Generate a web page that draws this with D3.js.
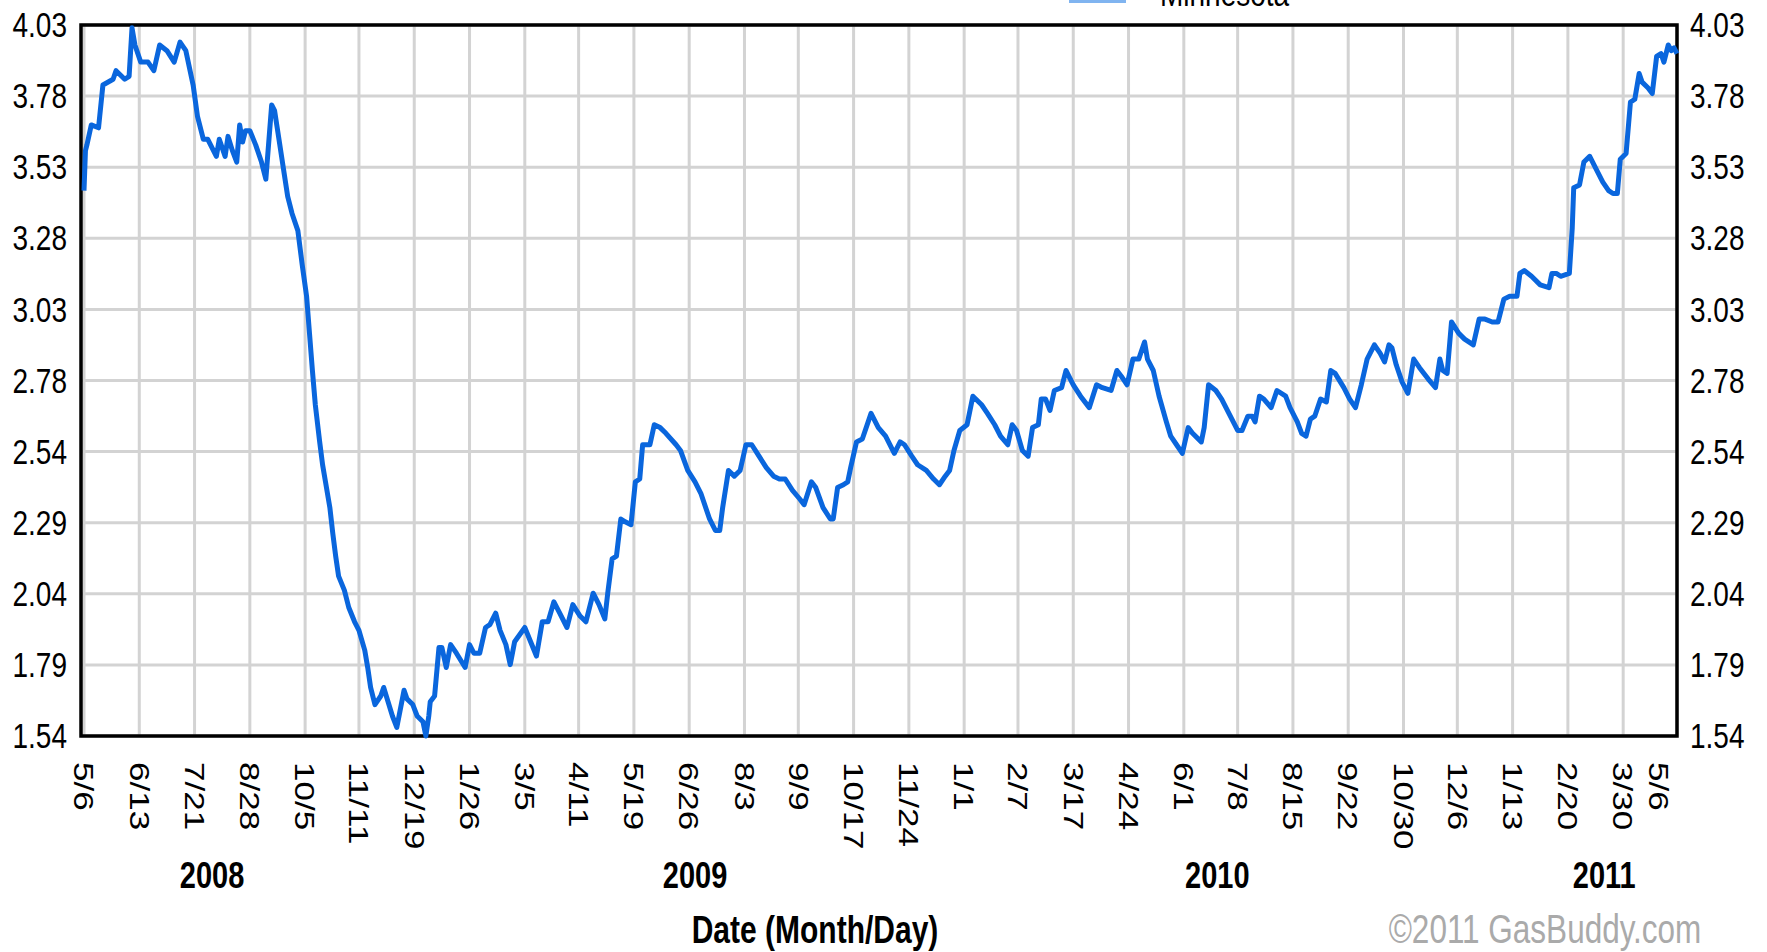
<!DOCTYPE html>
<html>
<head>
<meta charset="utf-8">
<script src="https://cdnjs.cloudflare.com/ajax/libs/d3/7.8.5/d3.min.js"></script>
<style>
  body { margin: 0; background: #fff; }
  svg { display: block; font-family: "Liberation Sans", Arial, sans-serif; }
</style>
</head>
<body>
<svg id="chart"></svg>
<script>
// average gas price
var dates = [
  "2008-05-06","2008-05-07","2008-05-08","2008-05-11","2008-05-16","2008-05-19","2008-05-26","2008-05-28",
  "2008-06-03","2008-06-06","2008-06-08","2008-06-10","2008-06-14","2008-06-19","2008-06-23","2008-06-27",
  "2008-07-02","2008-07-07","2008-07-11","2008-07-15","2008-07-20","2008-07-23","2008-07-27","2008-07-30",
  "2008-08-01","2008-08-05","2008-08-07","2008-08-11","2008-08-13","2008-08-16","2008-08-19","2008-08-21",
  "2008-08-23","2008-08-25","2008-08-28","2008-09-01","2008-09-05","2008-09-08","2008-09-12","2008-09-14",
  "2008-09-17","2008-09-20","2008-09-23","2008-09-26","2008-09-30","2008-10-03","2008-10-06","2008-10-08",
  "2008-10-10","2008-10-12","2008-10-15","2008-10-17","2008-10-19","2008-10-22","2008-10-24","2008-10-26",
  "2008-10-28","2008-11-01","2008-11-04","2008-11-08","2008-11-11","2008-11-15","2008-11-17","2008-11-19",
  "2008-11-22","2008-11-26","2008-11-28","2008-12-01","2008-12-04","2008-12-07","2008-12-12","2008-12-14",
  "2008-12-18","2008-12-21","2008-12-25","2008-12-27","2008-12-29","2008-12-30","2009-01-02","2009-01-05",
  "2009-01-07","2009-01-10","2009-01-13","2009-01-17","2009-01-23","2009-01-26","2009-01-29","2009-02-02",
  "2009-02-06","2009-02-09","2009-02-13","2009-02-16","2009-02-20","2009-02-23","2009-02-26","2009-03-05",
  "2009-03-09","2009-03-13","2009-03-17","2009-03-21","2009-03-25","2009-03-29","2009-04-03","2009-04-07",
  "2009-04-12","2009-04-16","2009-04-21","2009-04-25","2009-04-29","2009-05-01","2009-05-04","2009-05-07",
  "2009-05-10","2009-05-13","2009-05-17","2009-05-20","2009-05-23","2009-05-25","2009-05-30","2009-06-02",
  "2009-06-06","2009-06-10","2009-06-17","2009-06-20","2009-06-25","2009-06-30","2009-07-04","2009-07-10",
  "2009-07-14","2009-07-17","2009-07-19","2009-07-23","2009-07-27","2009-07-31","2009-08-04","2009-08-08",
  "2009-08-13","2009-08-18","2009-08-23","2009-08-27","2009-08-31","2009-09-05","2009-09-10","2009-09-13",
  "2009-09-18","2009-09-21","2009-09-26","2009-10-01","2009-10-03","2009-10-06","2009-10-10","2009-10-13",
  "2009-10-15","2009-10-19","2009-10-23","2009-10-29","2009-11-03","2009-11-08","2009-11-14","2009-11-18",
  "2009-11-21","2009-11-26","2009-11-30","2009-12-06","2009-12-11","2009-12-15","2009-12-19","2009-12-22",
  "2009-12-25","2009-12-29","2010-01-03","2010-01-07","2010-01-13","2010-01-17","2010-01-22","2010-01-26",
  "2010-01-31","2010-02-03","2010-02-06","2010-02-10","2010-02-14","2010-02-17","2010-02-21","2010-02-23",
  "2010-02-26","2010-03-01","2010-03-04","2010-03-09","2010-03-12","2010-03-17","2010-03-22","2010-03-28",
  "2010-04-02","2010-04-06","2010-04-12","2010-04-16","2010-04-19","2010-04-23","2010-04-27","2010-05-01",
  "2010-05-05","2010-05-07","2010-05-11","2010-05-15","2010-05-20","2010-05-23","2010-05-27","2010-05-31",
  "2010-06-04","2010-06-07","2010-06-13","2010-06-15","2010-06-18","2010-06-23","2010-06-27","2010-07-02",
  "2010-07-08","2010-07-11","2010-07-15","2010-07-18","2010-07-20","2010-07-23","2010-07-26","2010-07-31",
  "2010-08-04","2010-08-10","2010-08-13","2010-08-18","2010-08-21","2010-08-24","2010-08-27","2010-08-30",
  "2010-09-03","2010-09-07","2010-09-10","2010-09-13","2010-09-19","2010-09-23","2010-09-27","2010-10-01",
  "2010-10-05","2010-10-10","2010-10-14","2010-10-17","2010-10-20","2010-10-22","2010-10-25","2010-10-29",
  "2010-11-02","2010-11-06","2010-11-10","2010-11-16","2010-11-21","2010-11-24","2010-11-26","2010-11-29",
  "2010-12-02","2010-12-07","2010-12-11","2010-12-17","2010-12-21","2010-12-25","2010-12-30","2011-01-03",
  "2011-01-07","2011-01-11","2011-01-16","2011-01-18","2011-01-21","2011-01-26","2011-02-01","2011-02-07",
  "2011-02-09","2011-02-12","2011-02-15","2011-02-21","2011-02-23","2011-02-24","2011-02-28","2011-03-03",
  "2011-03-07","2011-03-11","2011-03-16","2011-03-20","2011-03-23","2011-03-26","2011-03-28","2011-04-01",
  "2011-04-04","2011-04-07","2011-04-10","2011-04-12","2011-04-16","2011-04-19","2011-04-22","2011-04-25",
  "2011-04-27","2011-04-30","2011-05-02","2011-05-04","2011-05-06"
];
var prices = [
  3.45,3.59,3.61,3.68,3.67,3.82,3.84,3.87,
  3.84,3.85,4.02,3.96,3.90,3.90,3.87,3.96,
  3.94,3.90,3.97,3.94,3.82,3.71,3.63,3.63,
  3.61,3.57,3.63,3.57,3.64,3.59,3.55,3.68,
  3.62,3.66,3.66,3.61,3.55,3.49,3.75,3.73,
  3.63,3.53,3.43,3.37,3.31,3.19,3.08,2.95,
  2.82,2.70,2.57,2.49,2.43,2.34,2.25,2.17,
  2.10,2.05,1.99,1.94,1.91,1.84,1.78,1.71,
  1.65,1.68,1.71,1.66,1.61,1.57,1.70,1.67,
  1.65,1.61,1.59,1.54,1.61,1.66,1.68,1.85,
  1.85,1.78,1.86,1.83,1.78,1.86,1.83,1.83,
  1.92,1.93,1.97,1.91,1.86,1.79,1.87,1.92,
  1.87,1.82,1.94,1.94,2.01,1.97,1.92,2.00,
  1.96,1.94,2.04,2.00,1.95,2.04,2.16,2.17,
  2.30,2.29,2.28,2.43,2.44,2.56,2.56,2.63,
  2.62,2.60,2.56,2.54,2.47,2.43,2.39,2.30,
  2.26,2.26,2.34,2.47,2.45,2.47,2.56,2.56,
  2.52,2.48,2.45,2.44,2.44,2.40,2.37,2.35,
  2.43,2.41,2.34,2.30,2.30,2.41,2.42,2.43,
  2.48,2.57,2.58,2.67,2.62,2.59,2.53,2.57,
  2.56,2.52,2.49,2.47,2.44,2.42,2.45,2.47,
  2.54,2.61,2.63,2.73,2.70,2.67,2.63,2.59,
  2.56,2.63,2.61,2.54,2.52,2.62,2.63,2.72,
  2.72,2.68,2.75,2.76,2.82,2.77,2.73,2.69,
  2.77,2.76,2.75,2.82,2.80,2.77,2.86,2.86,
  2.92,2.86,2.82,2.73,2.64,2.59,2.56,2.53,
  2.62,2.60,2.57,2.62,2.77,2.75,2.72,2.67,
  2.61,2.61,2.66,2.66,2.64,2.73,2.72,2.69,
  2.75,2.73,2.69,2.64,2.60,2.59,2.65,2.66,
  2.72,2.71,2.82,2.81,2.76,2.72,2.69,2.77,
  2.86,2.91,2.88,2.85,2.91,2.90,2.84,2.78,
  2.74,2.86,2.83,2.79,2.76,2.86,2.82,2.81,
  2.99,2.95,2.93,2.91,3.00,3.00,2.99,2.99,
  3.07,3.08,3.08,3.16,3.17,3.15,3.12,3.11,
  3.16,3.16,3.15,3.16,3.32,3.46,3.47,3.55,
  3.57,3.53,3.48,3.45,3.44,3.44,3.56,3.58,
  3.76,3.77,3.86,3.83,3.81,3.79,3.92,3.93,
  3.90,3.96,3.94,3.95,3.93
];

var xTickDates = [
  "2008-05-06","2008-06-13","2008-07-21","2008-08-28","2008-10-05","2008-11-11","2008-12-19",
  "2009-01-26","2009-03-05","2009-04-11","2009-05-19","2009-06-26","2009-08-03","2009-09-09",
  "2009-10-17","2009-11-24","2010-01-01","2010-02-07","2010-03-17","2010-04-24","2010-06-01",
  "2010-07-08","2010-08-15","2010-09-22","2010-10-30","2010-12-06","2011-01-13","2011-02-20",
  "2011-03-30","2011-05-06"
];
var xTickLabels = [
  "5/6","6/13","7/21","8/28","10/5","11/11","12/19","1/26","3/5","4/11","5/19","6/26","8/3","9/9",
  "10/17","11/24","1/1","2/7","3/17","4/24","6/1","7/8","8/15","9/22","10/30","12/6","1/13","2/20",
  "3/30","5/6"
];
var yTickLabels = ["1.54","1.79","2.04","2.29","2.54","2.78","3.03","3.28","3.53","3.78","4.03"];
var yearLabels = ["2008","2009","2010","2011"];
var yearDates = ["2008-08-02","2009-06-30","2010-06-24","2011-03-17"];
var legendLabel = "Minnesota";

var W = 1767, H = 952;
var parse = d3.utcParse("%Y-%m-%d");
var frame = {left: 81, top: 25, right: 1677, bottom: 736};

var svg = d3.select("#chart")
  .attr("width", W)
  .attr("height", H);

var x = d3.scaleUtc()
  .domain([parse(xTickDates[0]), parse(xTickDates[xTickDates.length - 1])])
  .range([84, frame.right]);

var y = d3.scaleLinear()
  .domain([+yTickLabels[0], +yTickLabels[yTickLabels.length - 1]])
  .range([frame.bottom, frame.top]);

// evenly spaced y ticks, labels rounded as on the original
var yStep = (y.domain()[1] - y.domain()[0]) / (yTickLabels.length - 1);
var yTicks = yTickLabels.map(function(d, i) { return y.domain()[0] + i * yStep; });

// grid
var grid = svg.append("g").attr("stroke", "#d3d3d3").attr("stroke-width", 3);
grid.selectAll(".gx")
  .data(xTickDates)
  .enter().append("line")
  .attr("x1", function(d) { return x(parse(d)); })
  .attr("x2", function(d) { return x(parse(d)); })
  .attr("y1", frame.top)
  .attr("y2", frame.bottom);
grid.selectAll(".gy")
  .data(yTicks)
  .enter().append("line")
  .attr("x1", frame.left)
  .attr("x2", frame.right)
  .attr("y1", function(d) { return y(d); })
  .attr("y2", function(d) { return y(d); });

// frame
svg.append("rect")
  .attr("x", frame.left)
  .attr("y", frame.top)
  .attr("width", frame.right - frame.left)
  .attr("height", frame.bottom - frame.top)
  .attr("fill", "none")
  .attr("stroke", "#000")
  .attr("stroke-width", 3.5);

// price line
var line = d3.line()
  .x(function(d, i) { return x(parse(dates[i])); })
  .y(function(d) { return y(d); });

svg.append("path")
  .datum(prices)
  .attr("d", line)
  .attr("fill", "none")
  .attr("stroke", "#0a66dd")
  .attr("stroke-width", 5)
  .attr("stroke-linejoin", "round");

// text is drawn a bit taller than wide, like the stretched original
function txt(px, py, s, sy) {
  return svg.append("g")
    .attr("transform", "translate(" + px + "," + py + ") scale(1," + sy + ")")
    .append("text")
    .text(s);
}

// y labels, both sides
yTicks.forEach(function(v, i) {
  txt(67, y(v), yTickLabels[i], 1.25)
    .attr("text-anchor", "end")
    .attr("dominant-baseline", "central")
    .attr("font-size", 28);
  txt(1690, y(v), yTickLabels[i], 1.25)
    .attr("dominant-baseline", "central")
    .attr("font-size", 28);
});

// x labels, rotated
xTickDates.forEach(function(d, i) {
  var px = Math.min(x(parse(d)), frame.right - 18);
  txt(px, 762, xTickLabels[i], 1.25)
    .attr("transform", "rotate(90)")
    .attr("dominant-baseline", "central")
    .attr("font-size", 28);
});

// years
yearLabels.forEach(function(s, i) {
  txt(x(parse(yearDates[i])), 888, s, 1.3)
    .attr("text-anchor", "middle")
    .attr("font-weight", "bold")
    .attr("font-size", 29);
});

txt(815, 943, "Date (Month/Day)", 1.27)
  .attr("text-anchor", "middle")
  .attr("font-weight", "bold")
  .attr("font-size", 30);

txt(1545, 943, "\u00a92011 GasBuddy.com", 1.27)
  .attr("text-anchor", "middle")
  .attr("font-size", 31.5)
  .attr("fill", "#aaaaaa");

// legend, mostly cut off at the top edge
svg.append("rect")
  .attr("x", 1069)
  .attr("y", -4)
  .attr("width", 57)
  .attr("height", 7)
  .attr("fill", "#80b4f0");
txt(1160, 6, legendLabel, 1.25)
  .attr("font-size", 28);
</script>
</body>
</html>
